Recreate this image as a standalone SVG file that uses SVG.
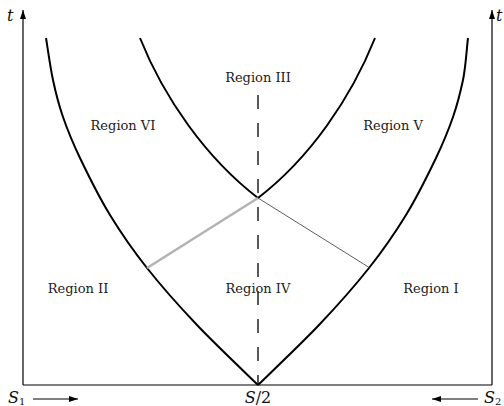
<svg xmlns="http://www.w3.org/2000/svg" width="504" height="406" viewBox="0 0 504 406">
<style>
.lbl{font-family:"DejaVu Serif","Liberation Serif",serif;font-size:13px;fill:#222;text-anchor:middle}
.math{font-family:"DejaVu Serif","Liberation Serif",serif;font-size:16px;fill:#111}
.it{font-style:italic}
.curve{fill:none;stroke:#000;stroke-width:2}
.axis{fill:none;stroke:#000;stroke-width:1.2}
</style>
<defs>
<marker id="ah" markerWidth="10" markerHeight="8" refX="9" refY="4" orient="auto" markerUnits="userSpaceOnUse">
<path d="M0,1 L9,4 L0,7 Z" fill="#000"/>
</marker>
</defs>
<rect width="504" height="406" fill="#fff"/>
<g id="axes">
<path class="axis" d="M23,385 L23,10" marker-end="url(#ah)"/>
<path class="axis" d="M492,385 L492,10" marker-end="url(#ah)"/>
<path class="axis" d="M23,385 L492,385"/>
<text class="math it" x="7" y="21">t</text>
<text class="math it" x="496" y="21">t</text>
</g>
<g id="connectors">
<path class="curve" d="M258,385 C247.8,375 215.5,344.5 197,325 C178.5,305.5 161.5,286.3 147,268 C132.5,249.7 121.2,233.3 110,215 C98.8,196.7 87.8,174.3 80,158 C72.2,141.7 67.5,130 63,117 C58.5,104 55.8,93.2 53,80 C50.2,66.8 47.2,45 46,38"/>
<path class="curve" d="M258,385 C268.2,375 300.5,344.5 319,325 C337.5,305.5 354.5,286.3 369,268 C383.5,249.7 394.8,233.3 406,215 C417.2,196.7 428.2,174.3 436,158 C443.8,141.7 448.5,130 453,117 C457.5,104 460.2,93.2 463,80 C465.8,66.8 467,45 468,38"/>
<path class="curve" d="M258,198 C206,158 164,98 140,38"/>
<path class="curve" d="M258,198 C310,158 351,98 375,38"/>
<path d="M258,95 L258,385" fill="none" stroke="#000" stroke-width="1.3" stroke-dasharray="14 14"/>
<path d="M147,268 L258,198" fill="none" stroke="#b3b3b3" stroke-width="2.6"/>
<path d="M258,198 L370,268" fill="none" stroke="#333" stroke-width="0.8"/>
<path d="M33,399 L78,399" fill="none" stroke="#000" stroke-width="1.2" marker-end="url(#ah)"/>
<path d="M478,399 L432,399" fill="none" stroke="#000" stroke-width="1.2" marker-end="url(#ah)"/>
</g>
<g id="region-III"><text class="lbl" x="258" y="82">Region III</text></g>
<g id="region-VI"><text class="lbl" x="123" y="130">Region VI</text></g>
<g id="region-V"><text class="lbl" x="393" y="130">Region V</text></g>
<g id="region-II"><text class="lbl" x="78" y="293">Region II</text></g>
<g id="region-IV"><text class="lbl" x="258" y="293">Region IV</text></g>
<g id="region-I"><text class="lbl" x="431" y="293">Region I</text></g>
<g id="s1"><text class="math" x="8" y="403"><tspan class="it">S</tspan><tspan font-size="10" dy="2">1</tspan></text></g>
<g id="s2"><text class="math" x="484" y="403"><tspan class="it">S</tspan><tspan font-size="10" dy="2">2</tspan></text></g>
<g id="s-half"><text class="math" x="258" y="403" text-anchor="middle"><tspan class="it">S</tspan>/2</text></g>
</svg>
